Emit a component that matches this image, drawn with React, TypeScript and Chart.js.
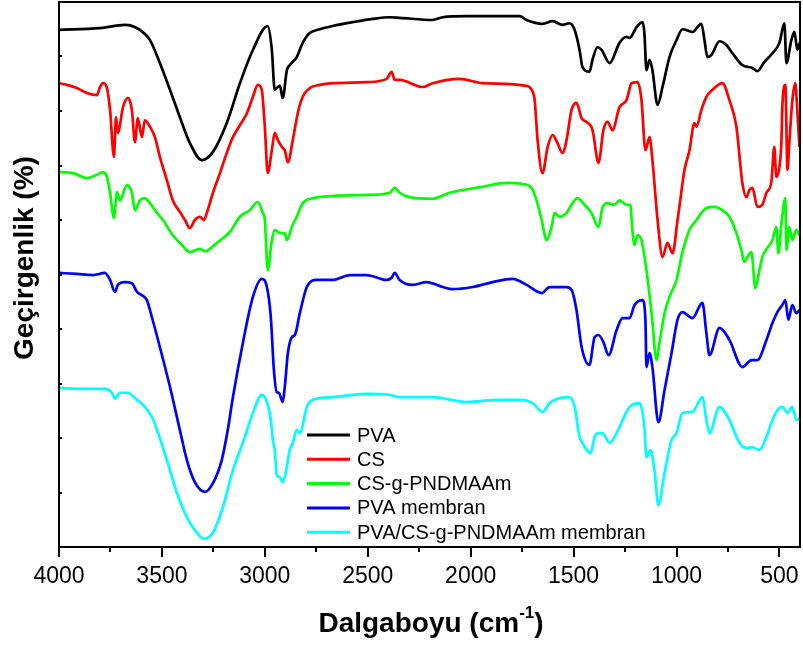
import React, { useEffect, useRef } from 'react';
import { Chart, registerables } from 'chart.js';

Chart.register(...registerables);

// ---- Data (wavenumber in cm-1, transmittance in arbitrary % units, spectra offset) ----
const pvaWn = [4000, 3801, 3680, 3607, 3558, 3510, 3461, 3413, 3364, 3306, 3252, 3185, 3121, 3058, 2986, 2966, 2952, 2937, 2927, 2913, 2893, 2879, 2845, 2816, 2782, 2733, 2670, 2573, 2476, 2393, 2345, 2185, 2136, 2020, 1762, 1728, 1651, 1602, 1554, 1520, 1495, 1471, 1457, 1423, 1408, 1384, 1364, 1325, 1277, 1243, 1228, 1194, 1165, 1156, 1146, 1131, 1117, 1092, 1068, 1034, 1000, 971, 923, 879, 864, 850, 830, 791, 758, 728, 680, 631, 607, 573, 534, 500, 476, 466, 442, 427, 413, 403];
const pvaT = [94.9, 95.2, 95.8, 94.9, 93.0, 88.8, 83.9, 78.9, 74.1, 71.0, 72.5, 77.8, 85.1, 91.2, 95.6, 91.2, 83.9, 84.4, 84.6, 82.4, 87.5, 88.4, 89.9, 92.5, 94.3, 95.0, 95.6, 96.3, 96.9, 97.2, 97.1, 96.7, 97.2, 97.4, 97.4, 96.7, 96.0, 96.5, 95.8, 96.1, 94.9, 91.2, 88.1, 87.2, 89.4, 91.7, 91.2, 88.8, 92.5, 93.6, 93.4, 95.4, 96.3, 94.3, 87.5, 89.4, 87.5, 81.1, 84.4, 89.9, 93.0, 95.0, 94.5, 96.0, 93.0, 89.9, 90.3, 92.8, 92.1, 90.6, 88.4, 87.9, 87.3, 89.0, 90.6, 92.5, 96.1, 88.8, 93.0, 94.5, 91.2, 92.5];

const csWn = [4000, 3961, 3913, 3864, 3816, 3801, 3786, 3767, 3752, 3733, 3723, 3714, 3689, 3665, 3646, 3631, 3617, 3597, 3583, 3558, 3534, 3510, 3476, 3447, 3413, 3388, 3364, 3340, 3316, 3296, 3282, 3252, 3218, 3185, 3155, 3121, 3087, 3058, 3034, 3015, 3000, 2986, 2966, 2952, 2937, 2917, 2903, 2888, 2864, 2840, 2816, 2782, 2733, 2670, 2505, 2408, 2384, 2369, 2345, 2233, 2185, 2054, 1942, 1728, 1704, 1689, 1675, 1651, 1626, 1602, 1578, 1554, 1534, 1510, 1486, 1461, 1437, 1408, 1379, 1355, 1335, 1311, 1277, 1243, 1218, 1189, 1170, 1151, 1131, 1117, 1092, 1068, 1044, 1019, 995, 986, 961, 937, 913, 903, 879, 855, 825, 777, 743, 709, 680, 660, 646, 631, 607, 583, 563, 539, 525, 515, 500, 490, 486, 471, 461, 452, 437, 423, 413, 403];
const csT = [85.1, 84.8, 84.2, 83.3, 82.9, 84.4, 85.1, 84.2, 80.2, 71.6, 78.9, 76.0, 80.7, 82.4, 80.2, 74.3, 78.7, 75.2, 78.3, 77.1, 75.2, 71.6, 67.3, 63.6, 61.5, 60.0, 58.5, 60.0, 60.6, 60.0, 61.3, 65.0, 68.6, 72.3, 75.2, 77.4, 79.6, 82.6, 84.8, 83.9, 77.1, 68.6, 72.8, 76.0, 74.7, 73.4, 72.8, 70.6, 74.7, 79.6, 82.6, 84.2, 84.8, 85.1, 85.3, 85.9, 87.2, 85.7, 85.7, 84.4, 85.1, 85.9, 85.1, 84.6, 83.9, 82.0, 74.7, 68.6, 73.4, 75.6, 74.1, 72.3, 74.7, 80.2, 81.5, 78.7, 78.0, 76.5, 70.5, 76.5, 78.0, 76.5, 80.7, 82.0, 85.1, 85.3, 82.0, 72.8, 75.2, 71.0, 60.0, 53.2, 55.8, 53.9, 60.0, 62.4, 69.2, 72.8, 77.8, 77.1, 80.2, 82.6, 83.9, 85.1, 82.0, 77.1, 66.8, 64.2, 65.5, 65.9, 62.4, 62.8, 65.0, 67.0, 73.4, 67.9, 69.7, 74.7, 80.7, 84.8, 69.2, 74.1, 82.0, 85.1, 80.2, 73.4];

const csgWn = [4000, 3932, 3864, 3816, 3786, 3767, 3752, 3733, 3718, 3704, 3670, 3646, 3631, 3607, 3583, 3558, 3524, 3495, 3447, 3403, 3364, 3316, 3291, 3233, 3170, 3121, 3073, 3034, 3010, 3000, 2986, 2966, 2952, 2927, 2903, 2893, 2869, 2845, 2816, 2767, 2670, 2505, 2393, 2369, 2345, 2296, 2185, 2102, 1942, 1825, 1748, 1704, 1680, 1655, 1631, 1607, 1592, 1568, 1534, 1505, 1481, 1447, 1413, 1379, 1360, 1335, 1301, 1277, 1243, 1223, 1218, 1204, 1189, 1170, 1146, 1121, 1097, 1083, 1058, 1034, 1000, 971, 937, 903, 879, 855, 816, 777, 743, 709, 685, 670, 656, 636, 617, 597, 583, 558, 534, 515, 505, 490, 471, 466, 452, 437, 418, 403];
const csgT = [68.8, 68.6, 67.7, 68.3, 68.8, 67.9, 65.0, 60.4, 65.1, 63.6, 66.4, 65.0, 61.8, 63.6, 64.0, 63.1, 61.3, 60.0, 57.2, 55.4, 54.1, 54.7, 54.3, 55.8, 57.8, 60.6, 61.8, 63.3, 61.3, 60.0, 50.8, 56.3, 58.2, 57.6, 57.6, 56.3, 58.7, 60.6, 63.1, 64.0, 64.4, 64.6, 65.0, 65.9, 65.0, 64.2, 63.9, 65.0, 66.1, 66.8, 66.6, 65.9, 63.6, 60.0, 56.3, 58.7, 61.3, 60.6, 61.3, 63.1, 64.0, 62.8, 61.3, 58.7, 62.2, 63.1, 62.8, 63.6, 62.8, 62.8, 60.0, 55.4, 57.2, 56.3, 50.8, 42.9, 34.3, 37.4, 42.9, 45.9, 49.0, 54.1, 58.2, 60.0, 61.3, 62.2, 62.4, 61.8, 60.6, 57.6, 54.5, 52.3, 53.2, 54.1, 47.5, 50.8, 53.2, 54.9, 56.3, 58.7, 53.9, 59.4, 64.0, 54.5, 58.7, 56.3, 58.2, 57.2];

const pvamWn = [4000, 3913, 3835, 3777, 3752, 3728, 3714, 3680, 3646, 3621, 3597, 3573, 3549, 3510, 3461, 3413, 3379, 3340, 3291, 3252, 3209, 3180, 3155, 3107, 3058, 3015, 2990, 2971, 2956, 2942, 2932, 2913, 2903, 2888, 2869, 2854, 2830, 2796, 2748, 2670, 2587, 2505, 2408, 2384, 2369, 2345, 2282, 2214, 2136, 2087, 1990, 1893, 1796, 1728, 1655, 1617, 1534, 1510, 1486, 1461, 1423, 1398, 1379, 1355, 1330, 1291, 1262, 1228, 1204, 1165, 1151, 1146, 1131, 1117, 1088, 1058, 1024, 995, 971, 923, 874, 855, 840, 791, 743, 680, 636, 607, 563, 534, 510, 486, 471, 457, 437, 418, 403];
const pvamT = [50.3, 50.1, 49.9, 50.3, 49.0, 46.8, 48.1, 48.6, 48.4, 46.8, 46.2, 45.3, 42.2, 36.7, 29.4, 21.5, 16.0, 11.9, 10.1, 11.7, 16.0, 21.5, 27.5, 37.4, 45.9, 49.2, 47.7, 42.2, 32.5, 28.4, 28.3, 26.6, 29.4, 35.6, 38.5, 38.9, 42.9, 47.7, 49.0, 49.0, 49.9, 49.9, 49.0, 49.4, 50.3, 49.0, 48.1, 48.6, 47.7, 47.3, 47.7, 48.6, 49.2, 48.1, 46.6, 47.7, 47.7, 47.2, 43.5, 36.7, 33.4, 38.5, 38.9, 37.6, 35.2, 39.8, 42.0, 42.0, 44.4, 45.3, 41.7, 33.0, 35.6, 33.0, 22.9, 28.8, 35.6, 41.7, 43.1, 42.0, 44.8, 39.3, 35.2, 40.2, 38.0, 33.0, 34.3, 34.3, 38.0, 41.1, 43.1, 44.4, 45.3, 41.7, 44.4, 42.9, 43.5];

const blendWn = [4000, 3884, 3777, 3743, 3728, 3704, 3665, 3621, 3592, 3549, 3524, 3476, 3427, 3379, 3330, 3296, 3252, 3204, 3155, 3097, 3058, 3015, 2990, 2971, 2961, 2952, 2942, 2927, 2913, 2893, 2879, 2864, 2845, 2830, 2796, 2767, 2670, 2505, 2393, 2345, 2185, 2020, 1859, 1762, 1699, 1651, 1617, 1568, 1520, 1495, 1471, 1457, 1418, 1398, 1379, 1360, 1325, 1291, 1277, 1228, 1179, 1156, 1146, 1126, 1107, 1088, 1058, 1024, 1000, 971, 923, 874, 855, 840, 791, 743, 694, 660, 631, 597, 563, 539, 510, 486, 461, 437, 418, 403];
const blendT = [29.2, 29.0, 29.0, 28.3, 27.2, 28.3, 28.3, 27.0, 26.1, 23.9, 21.5, 16.0, 9.9, 5.5, 2.6, 1.5, 2.6, 7.3, 14.1, 20.2, 24.6, 27.9, 26.6, 23.3, 19.6, 17.8, 13.2, 12.8, 11.9, 14.7, 17.8, 19.1, 21.5, 20.9, 25.7, 27.0, 27.5, 28.1, 27.9, 27.5, 27.5, 26.6, 27.0, 27.0, 26.4, 24.8, 26.4, 27.3, 27.5, 25.7, 20.2, 19.1, 17.2, 20.2, 20.9, 20.9, 19.1, 20.9, 22.0, 25.7, 26.4, 22.0, 16.5, 17.8, 14.1, 7.7, 13.6, 19.6, 20.9, 24.6, 24.8, 27.5, 23.3, 20.9, 25.7, 23.3, 19.1, 18.2, 18.3, 17.8, 20.2, 22.8, 25.1, 25.7, 24.6, 25.7, 23.3, 23.6];

const seriesLabels = ['PVA', 'CS', 'CS-g-PNDMAAm', 'PVA membran', 'PVA/CS-g-PNDMAAm membran'];
const seriesColors = ['#000000', '#ff0000', '#00ff00', '#0000ff', '#00ffff'];
const seriesWn = [pvaWn, csWn, csgWn, pvamWn, blendWn];
const seriesT = [pvaT, csT, csgT, pvamT, blendT];

const xMajorTicks = [4000, 3500, 3000, 2500, 2000, 1500, 1000, 500];
const xMinorTicks = [3750, 3250, 2750, 2250, 1750, 1250, 750];
const yTicks = [0, 10, 20, 30, 40, 50, 60, 70, 80, 90, 100];
const xTitle = 'Dalgaboyu (cm';
const xTitleSup = '-1';
const xTitleEnd = ')';
const yTitle = 'Geçirgenlik (%)';

const FONT = '"Liberation Sans", Arial, Helvetica, sans-serif';

const decorPlugin = {
  id: 'decor',
  afterDatasetsDraw(chart: any) {
    const { ctx, chartArea: a, scales } = chart;
    const xs = scales.x;
    const ys = scales.y;
    ctx.save();
    ctx.strokeStyle = '#000';
    ctx.lineWidth = 2;
    ctx.strokeRect(a.left, a.top, a.right - a.left, a.bottom - a.top);
    ctx.beginPath();
    xMajorTicks.forEach((v) => {
      const px = Math.round(xs.getPixelForValue(v));
      ctx.moveTo(px, a.bottom);
      ctx.lineTo(px, a.bottom + 10);
    });
    xMinorTicks.forEach((v) => {
      const px = Math.round(xs.getPixelForValue(v));
      ctx.moveTo(px, a.bottom);
      ctx.lineTo(px, a.bottom + 5);
    });
    yTicks.forEach((v) => {
      const py = Math.round(ys.getPixelForValue(v));
      ctx.moveTo(a.left, py);
      ctx.lineTo(a.left + 3, py);
    });
    ctx.stroke();

    // legend
    const legX = 307;
    const legY0 = 435;
    const legDy = 24.3;
    ctx.font = `20px ${FONT}`;
    ctx.textBaseline = 'middle';
    ctx.textAlign = 'left';
    seriesLabels.forEach((lab, i) => {
      const y = legY0 + i * legDy;
      ctx.strokeStyle = seriesColors[i];
      ctx.lineWidth = 3;
      ctx.beginPath();
      ctx.moveTo(legX, y);
      ctx.lineTo(legX + 43, y);
      ctx.stroke();
      ctx.fillStyle = '#000';
      ctx.fillText(lab, legX + 50, y + 1);
    });

    // x title with superscript
    ctx.fillStyle = '#000';
    ctx.textBaseline = 'alphabetic';
    ctx.font = `bold 28px ${FONT}`;
    const w1 = ctx.measureText(xTitle).width;
    ctx.font = `bold 17px ${FONT}`;
    const w2 = ctx.measureText(xTitleSup).width;
    ctx.font = `bold 28px ${FONT}`;
    const w3 = ctx.measureText(xTitleEnd).width;
    const total = w1 + w2 + w3;
    const cx = 431;
    let sx = cx - total / 2;
    const base = 632;
    ctx.fillText(xTitle, sx, base);
    sx += w1;
    ctx.font = `bold 17px ${FONT}`;
    ctx.fillText(xTitleSup, sx, base - 14);
    sx += w2;
    ctx.font = `bold 28px ${FONT}`;
    ctx.fillText(xTitleEnd, sx, base);

    // y title
    ctx.save();
    ctx.translate(33, 258);
    ctx.rotate(-Math.PI / 2);
    ctx.textAlign = 'center';
    ctx.fillText(yTitle, 0, 0);
    ctx.restore();

    ctx.restore();
  },
};

export default function App() {
  const ref = useRef<HTMLCanvasElement>(null);
  useEffect(() => {
    const canvas = ref.current;
    if (!canvas) return;
    const datasets = seriesLabels.map((lab, i) => ({
      label: lab,
      data: seriesWn[i].map((w, j) => ({ x: w, y: seriesT[i][j] })),
      borderColor: seriesColors[i],
      backgroundColor: seriesColors[i],
      borderWidth: 2.7,
      pointRadius: 0,
      cubicInterpolationMode: 'monotone' as const,
      fill: false,
    }));
    const chart = new Chart(canvas, {
      type: 'line',
      data: { datasets },
      plugins: [decorPlugin],
      options: {
        animation: false,
        responsive: false,
        maintainAspectRatio: false,
        layout: { padding: { left: 59, right: 3, top: 2, bottom: 0 } },
        plugins: { legend: { display: false }, tooltip: { enabled: false } },
        scales: {
          x: {
            type: 'linear',
            min: 400,
            max: 4000,
            reverse: true,
            grid: { display: false, drawTicks: false },
            border: { display: false },
            afterBuildTicks: (scale: any) => {
              scale.ticks = xMajorTicks.map((v) => ({ value: v }));
            },
            afterFit: (scale: any) => {
              scale.height = 102;
              scale.paddingLeft = 0;
              scale.paddingRight = 0;
            },
            ticks: {
              autoSkip: false,
              maxRotation: 0,
              padding: 16,
              color: '#000',
              font: { size: 23, family: FONT },
              callback: (v: any) => String(v),
            },
          },
          y: {
            type: 'linear',
            display: false,
            min: 0,
            max: 100,
          },
        },
      },
    });
    return () => chart.destroy();
  }, []);
  return (
    <div style={{ position: 'absolute', left: 0, top: 0, width: 803, height: 649, background: '#fff' }}>
      <canvas ref={ref} width={803} height={649} style={{ display: 'block', width: 803, height: 649 }} />
    </div>
  );
}
